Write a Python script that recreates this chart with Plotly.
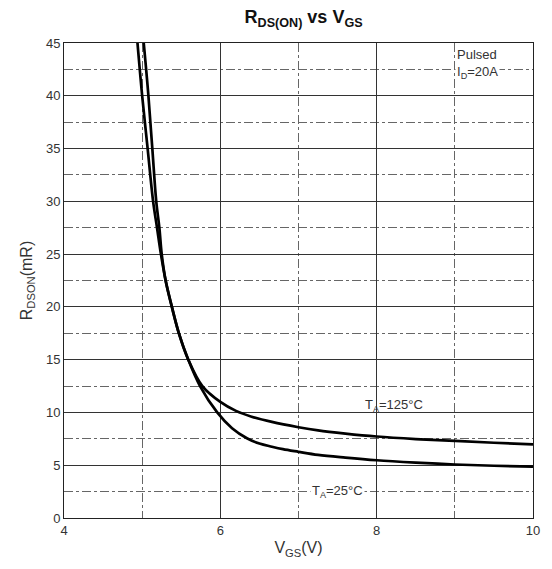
import plotly.graph_objects as go

# 25 °C curve
vgs_25 = [4.94, 5.00, 5.07, 5.14, 5.19, 5.24, 5.30, 5.38, 5.47, 5.59, 5.74, 5.96, 6.15, 6.34, 6.50, 6.66, 6.80, 7.00, 7.25, 7.60, 8.00, 8.50, 9.00, 9.50, 10.00]
rds_25 = [45.0, 40.0, 35.0, 30.0, 27.5, 25.0, 22.5, 20.0, 17.5, 15.0, 12.5, 10.0, 8.5, 7.55, 7.05, 6.75, 6.52, 6.27, 5.98, 5.72, 5.47, 5.25, 5.07, 4.95, 4.86]

# 125 °C curve
vgs_125 = [5.02, 5.08, 5.13, 5.18, 5.22, 5.25, 5.30, 5.38, 5.47, 5.59, 5.77, 6.00, 6.20, 6.40, 6.66, 7.00, 7.25, 7.60, 8.00, 8.50, 9.00, 9.50, 10.00]
rds_125 = [45.0, 40.0, 35.0, 30.0, 27.5, 25.0, 22.5, 20.0, 17.5, 15.0, 12.5, 11.0, 10.15, 9.6, 9.1, 8.6, 8.3, 8.0, 7.72, 7.48, 7.3, 7.13, 6.98]

x_ticks = [4, 6, 8, 10]
y_ticks = [0, 5, 10, 15, 20, 25, 30, 35, 40, 45]

fig = go.Figure()
for xs, ys in [(vgs_25, rds_25), (vgs_125, rds_125)]:
    fig.add_trace(go.Scatter(x=xs, y=ys, mode="lines",
                             line=dict(color="black", width=2.7, shape="spline", smoothing=1.0),
                             showlegend=False, hoverinfo="skip"))

font = "Arial, Liberation Sans, sans-serif"
fig.update_layout(
    width=552, height=569,
    margin=dict(l=64, r=15, t=43, b=51),
    paper_bgcolor="white", plot_bgcolor="white",
    title=dict(text="<b>R<sub>DS(ON)</sub> vs V<sub>GS</sub></b>", x=0.55, xanchor="center",
               y=0.97, yanchor="middle", font=dict(family=font, size=18, color="#111")),
    font=dict(family=font, size=13, color="#333"),
)
fig.update_xaxes(range=[4, 10], tickvals=x_ticks, ticks="", showline=True, linecolor="#222",
                 linewidth=1, mirror=True, showgrid=True, gridcolor="#333", gridwidth=1,
                 zeroline=False,
                 minor=dict(dtick=1, showgrid=True, gridcolor="#666", griddash="dashdot", gridwidth=1),
                 title=dict(text="V<sub>GS</sub>(V)", font=dict(size=16, color="#333"), standoff=5),
                 tickfont=dict(size=13, color="#333"))
fig.update_yaxes(range=[0, 45], tickvals=y_ticks, ticks="", showline=True, linecolor="#222",
                 linewidth=1, mirror=True, showgrid=True, gridcolor="#333", gridwidth=1,
                 zeroline=False,
                 minor=dict(dtick=2.5, showgrid=True, gridcolor="#666", griddash="dashdot", gridwidth=1),
                 title=dict(text="R<sub>DSON</sub>(mR)", font=dict(size=16, color="#333"), standoff=9),
                 tickfont=dict(size=13, color="#333"))

fig.add_annotation(x=9.0, y=44.8, xref="x", yref="y", xanchor="left", yanchor="top",
                   text="Pulsed<br>I<sub>D</sub>=20A", showarrow=False, align="left",
                   bgcolor="white", font=dict(size=13, color="#333"))
fig.add_annotation(x=8.22, y=10.7, xref="x", yref="y", text="T<sub>A</sub>=125°C",
                   showarrow=False, font=dict(size=13, color="#333"))
fig.add_annotation(x=7.5, y=2.5, xref="x", yref="y", text="T<sub>A</sub>=25°C",
                   showarrow=False, bgcolor="white", font=dict(size=13, color="#333"))

fig.write_html("out.html")
